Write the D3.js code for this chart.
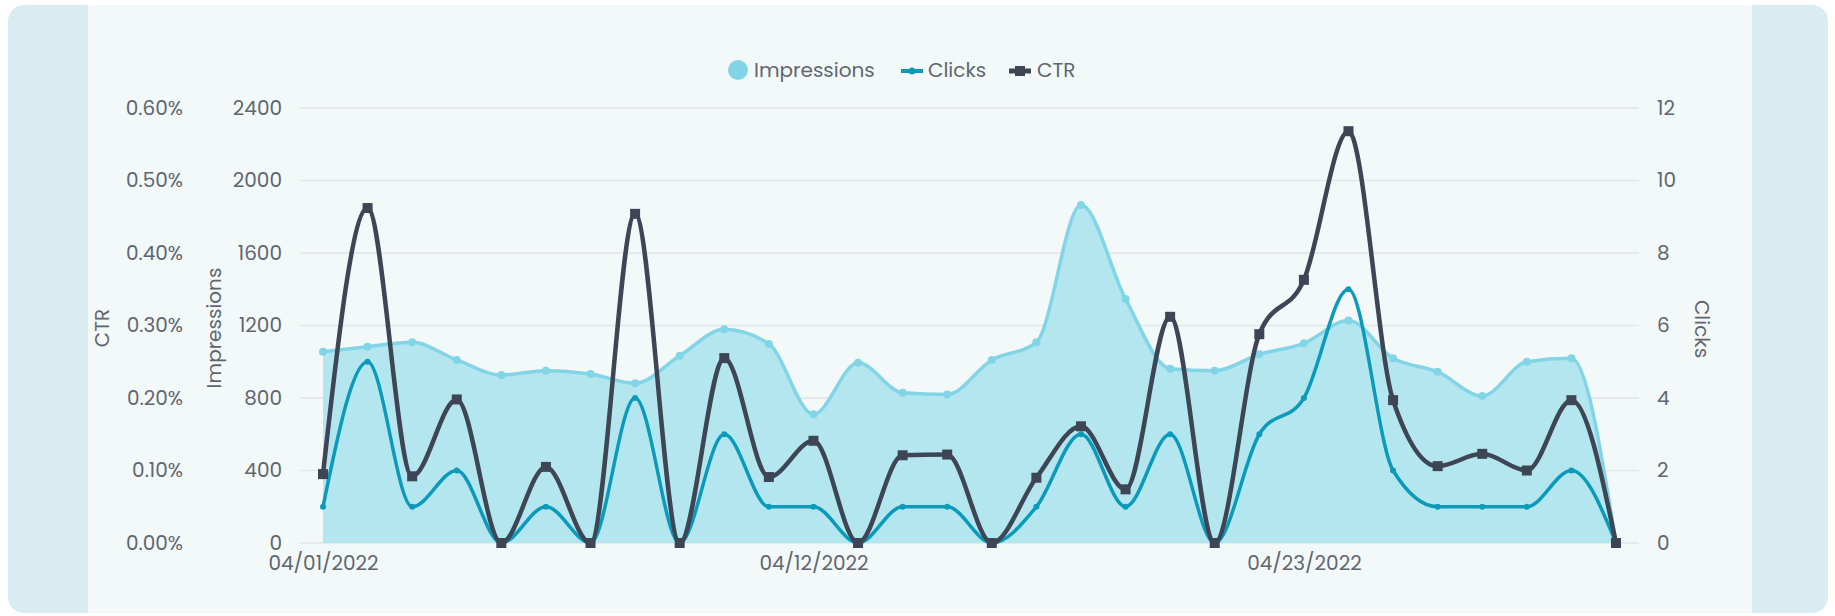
<!DOCTYPE html>
<html>
<head>
<meta charset="utf-8">
<script src="https://cdn.jsdelivr.net/npm/d3@7"></script>
<style>
  body { margin: 0; background: #ffffff; }
  svg text { font-family: Poppins, Inter, "Open Sans", sans-serif; }
</style>
</head>
<body>
<svg id="chart" width="1835" height="616"></svg>
<script>
// chart data
const dates = [
  '04/01/2022', '04/02/2022', '04/03/2022', '04/04/2022', '04/05/2022', '04/06/2022',
  '04/07/2022', '04/08/2022', '04/09/2022', '04/10/2022', '04/11/2022', '04/12/2022',
  '04/13/2022', '04/14/2022', '04/15/2022', '04/16/2022', '04/17/2022', '04/18/2022',
  '04/19/2022', '04/20/2022', '04/21/2022', '04/22/2022', '04/23/2022', '04/24/2022',
  '04/25/2022', '04/26/2022', '04/27/2022', '04/28/2022', '04/29/2022', '04/30/2022'
];
const impressions = [1055, 1083, 1107, 1010, 927, 951, 932, 881, 1033, 1179,
  1098, 710, 995, 829, 820, 1010, 1107, 1865, 1346, 962,
  951, 1041, 1102, 1227, 1019, 945, 811, 1000, 1019, 0];
const clicks = [1, 5, 1, 2, 0, 1, 0, 4, 0, 3,
  1, 1, 0, 1, 1, 0, 1, 3, 1, 3,
  0, 3, 4, 7, 2, 1, 1, 1, 2, 0];
const ctr = [0.095, 0.462, 0.092, 0.198, 0, 0.105, 0, 0.454, 0, 0.255,
  0.091, 0.141, 0, 0.121, 0.122, 0, 0.090, 0.161, 0.074, 0.312,
  0, 0.288, 0.363, 0.568, 0.197, 0.106, 0.123, 0.100, 0.197, 0];
const xTickLabels = ['04/01/2022', '04/12/2022', '04/23/2022'];
const impTicks = [0, 400, 800, 1200, 1600, 2000, 2400];
const ctrTicks = [0, 0.1, 0.2, 0.3, 0.4, 0.5, 0.6];
const clickTicks = [0, 2, 4, 6, 8, 10, 12];

// colours
const impColor = '#82d5e7';
const impFill = '#b4e6f0';
const clickColor = '#0c9abb';
const ctrColor = '#3e4656';
const labelColor = '#5f6670';
const gridColor = '#e2e5e9';
const fontSize = '20px';

const svg = d3.select('#chart');

// card background: side panels + main panel
svg.append('rect')
  .attr('x', 8).attr('y', 5)
  .attr('width', 1820).attr('height', 608)
  .attr('rx', 16)
  .attr('fill', '#d9ecf1');
svg.append('rect')
  .attr('x', 88).attr('y', 5)
  .attr('width', 1664).attr('height', 608)
  .attr('fill', '#f3f8f9');

// scales
const x = d3.scalePoint().domain(dates).range([323, 1616]);
const yImp = d3.scaleLinear().domain([0, 2400]).range([543, 108]);
const yCtr = d3.scaleLinear().domain([0, 0.6]).range([543, 108]);
const yClk = d3.scaleLinear().domain([0, 12]).range([543, 108]);

// gridlines
svg.append('g')
  .selectAll('line')
  .data(impTicks)
  .join('line')
  .attr('x1', 300).attr('x2', 1639)
  .attr('y1', d => yImp(d)).attr('y2', d => yImp(d))
  .attr('stroke', gridColor)
  .attr('stroke-width', 1.5);

// axes (tick labels only, no domain line)
function styleAxis(g) {
  g.select('.domain').remove();
  g.selectAll('.tick line').remove();
  g.selectAll('.tick text')
    .attr('fill', labelColor)
    .style('font-size', fontSize);
}

svg.append('g')
  .attr('transform', 'translate(292,0)')
  .call(d3.axisLeft(yImp).tickValues(impTicks).tickSize(0).tickPadding(10)
    .tickFormat(d3.format('d')))
  .call(styleAxis);

svg.append('g')
  .attr('transform', 'translate(193,0)')
  .call(d3.axisLeft(yCtr).tickValues(ctrTicks).tickSize(0).tickPadding(10)
    .tickFormat(d => d.toFixed(2) + '%'))
  .call(styleAxis);

svg.append('g')
  .attr('transform', 'translate(1647,0)')
  .call(d3.axisRight(yClk).tickValues(clickTicks).tickSize(0).tickPadding(10))
  .call(styleAxis);

svg.append('g')
  .attr('transform', 'translate(0,543)')
  .call(d3.axisBottom(x).tickValues(xTickLabels).tickSize(0).tickPadding(13))
  .call(styleAxis);

// axis titles
function axisTitle(text, tx, ty, angle) {
  svg.append('text')
    .attr('transform', `translate(${tx},${ty}) rotate(${angle})`)
    .attr('text-anchor', 'middle')
    .attr('dominant-baseline', 'central')
    .attr('fill', labelColor)
    .style('font-size', fontSize)
    .text(text);
}
axisTitle('CTR', 102, 328, -90);
axisTitle('Impressions', 214, 328, -90);
axisTitle('Clicks', 1702, 329, 90);

// impressions area + line
const area = d3.area()
  .x((d, i) => x(dates[i]))
  .y0(yImp(0))
  .y1(d => yImp(d))
  .curve(d3.curveMonotoneX);

const impLine = d3.line()
  .x((d, i) => x(dates[i]))
  .y(d => yImp(d))
  .curve(d3.curveMonotoneX);

svg.append('path')
  .datum(impressions)
  .attr('d', area)
  .attr('fill', impFill);

svg.append('path')
  .datum(impressions)
  .attr('d', impLine)
  .attr('fill', 'none')
  .attr('stroke', impColor)
  .attr('stroke-width', 3.5);

svg.append('g')
  .selectAll('circle')
  .data(impressions)
  .join('circle')
  .attr('cx', (d, i) => x(dates[i]))
  .attr('cy', d => yImp(d))
  .attr('r', 4)
  .attr('fill', impColor);

// clicks line
const clickLine = d3.line()
  .x((d, i) => x(dates[i]))
  .y(d => yClk(d))
  .curve(d3.curveMonotoneX);

svg.append('path')
  .datum(clicks)
  .attr('d', clickLine)
  .attr('fill', 'none')
  .attr('stroke', clickColor)
  .attr('stroke-width', 3.5);

svg.append('g')
  .selectAll('circle')
  .data(clicks)
  .join('circle')
  .attr('cx', (d, i) => x(dates[i]))
  .attr('cy', d => yClk(d))
  .attr('r', 3)
  .attr('fill', clickColor);

// ctr line with square markers
const ctrLine = d3.line()
  .x((d, i) => x(dates[i]))
  .y(d => yCtr(d))
  .curve(d3.curveMonotoneX);

svg.append('path')
  .datum(ctr)
  .attr('d', ctrLine)
  .attr('fill', 'none')
  .attr('stroke', ctrColor)
  .attr('stroke-width', 4.5);

svg.append('g')
  .selectAll('rect')
  .data(ctr)
  .join('rect')
  .attr('x', (d, i) => x(dates[i]) - 5)
  .attr('y', d => yCtr(d) - 5)
  .attr('width', 10)
  .attr('height', 10)
  .attr('fill', ctrColor);

// legend
const legend = svg.append('g').attr('transform', 'translate(0,70)');

legend.append('circle')
  .attr('cx', 738).attr('cy', 0).attr('r', 10)
  .attr('fill', impColor);
legend.append('text')
  .attr('x', 754).attr('y', 0)
  .attr('dominant-baseline', 'central')
  .attr('fill', labelColor)
  .style('font-size', fontSize)
  .text('Impressions');

legend.append('line')
  .attr('x1', 901).attr('x2', 923).attr('y1', 1).attr('y2', 1)
  .attr('stroke', clickColor).attr('stroke-width', 4);
legend.append('circle')
  .attr('cx', 912).attr('cy', 1).attr('r', 3.5)
  .attr('fill', clickColor);
legend.append('text')
  .attr('x', 928).attr('y', 0)
  .attr('dominant-baseline', 'central')
  .attr('fill', labelColor)
  .style('font-size', fontSize)
  .text('Clicks');

legend.append('line')
  .attr('x1', 1009).attr('x2', 1031).attr('y1', 1).attr('y2', 1)
  .attr('stroke', ctrColor).attr('stroke-width', 5);
legend.append('rect')
  .attr('x', 1015).attr('y', -4).attr('width', 10).attr('height', 10)
  .attr('fill', ctrColor);
legend.append('text')
  .attr('x', 1037).attr('y', 0)
  .attr('dominant-baseline', 'central')
  .attr('fill', labelColor)
  .style('font-size', fontSize)
  .text('CTR');
</script>
</body>
</html>
